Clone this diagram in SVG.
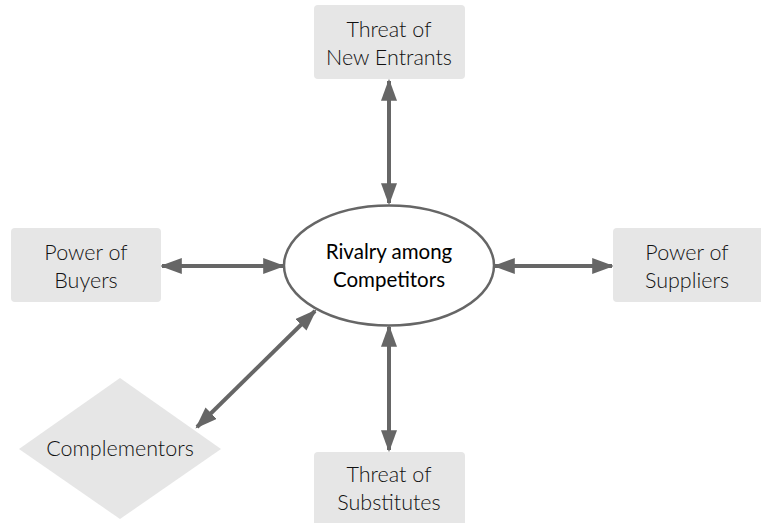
<svg xmlns="http://www.w3.org/2000/svg" width="761" height="523" viewBox="0 0 761 523">
<defs>
<style>
.box{fill:#e6e6e6;}
.lbl{font-family:"Lato","Open Sans","DejaVu Sans",sans-serif;font-weight:300;font-size:21.5px;fill:#111;text-anchor:middle;}
.core{font-family:"Lato","Open Sans","DejaVu Sans",sans-serif;font-weight:400;font-size:20.5px;fill:#000;text-anchor:middle;}
.conn{stroke:#666;stroke-width:4;fill:none;marker-start:url(#ah);marker-end:url(#ah);}
</style>
<marker id="ah" viewBox="0 0 10 10" refX="9" refY="5" markerUnits="userSpaceOnUse" markerWidth="22" markerHeight="16" orient="auto-start-reverse" preserveAspectRatio="none">
<path d="M0,0 L10,5 L0,10 Z" fill="#666"/>
</marker>
</defs>
<rect width="761" height="523" fill="#fff"/>
<g id="connectors">
<line class="conn" x1="389" y1="81" x2="389" y2="203"/>
<line class="conn" x1="162" y1="266" x2="283" y2="266"/>
<line class="conn" x1="495" y1="266" x2="612" y2="266"/>
<line class="conn" x1="389" y1="327" x2="389" y2="450"/>
<line class="conn" x1="315" y1="311" x2="197" y2="427"/>
</g>
<g id="rivalry">
<ellipse cx="389" cy="265.5" rx="105" ry="60" fill="#fff" stroke="#666" stroke-width="2.5"/>
<text class="core" x="389" y="259">Rivalry among</text>
<text class="core" x="389" y="287">Competitors</text>
</g>
<g id="new-entrants">
<rect class="box" x="314" y="5" width="151" height="74" rx="4"/>
<text class="lbl" x="389" y="37">Threat of</text>
<text class="lbl" x="389" y="65">New Entrants</text>
</g>
<g id="buyers">
<rect class="box" x="11" y="228" width="150" height="74" rx="4"/>
<text class="lbl" x="86" y="260">Power of</text>
<text class="lbl" x="86" y="288">Buyers</text>
</g>
<g id="suppliers">
<rect class="box" x="613" y="228" width="152" height="74" rx="4"/>
<text class="lbl" x="687" y="260">Power of</text>
<text class="lbl" x="687" y="288">Suppliers</text>
</g>
<g id="substitutes">
<rect class="box" x="314" y="452" width="151" height="76" rx="4"/>
<text class="lbl" x="389" y="482">Threat of</text>
<text class="lbl" x="389" y="510">Substitutes</text>
</g>
<g id="complementors">
<polygon class="box" points="120,378 221,449 120,519 19,449"/>
<text class="lbl" x="120" y="456">Complementors</text>
</g>
</svg>
